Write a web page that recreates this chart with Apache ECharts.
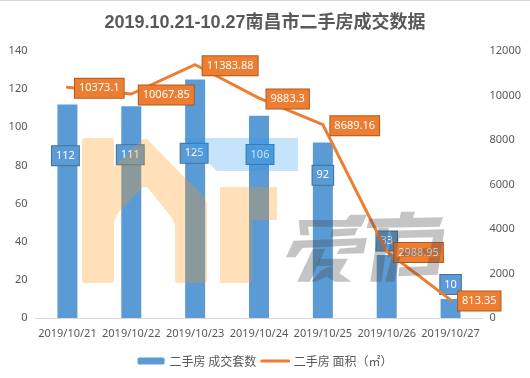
<!DOCTYPE html>
<html>
<head>
<meta charset="utf-8">
<style>
  html, body { margin: 0; padding: 0; background: #fff; }
  #chart { width: 530px; height: 378px; }
</style>
<script src="https://cdn.jsdelivr.net/npm/echarts@6/dist/echarts.min.js"></script>
</head>
<body>
<div id="chart"></div>
<script>
const categories = ['2019/10/21', '2019/10/22', '2019/10/23', '2019/10/24', '2019/10/25', '2019/10/26', '2019/10/27'];
const dealCounts = [112, 111, 125, 106, 92, 33, 10];
const dealAreas = [10373.1, 10067.85, 11383.88, 9883.3, 8689.16, 2988.95, 813.35];
const barName = '二手房 成交套数';
const lineName = '二手房 面积（㎡）';

// where the bar labels sit relative to the middle of their bar
const barLabelOffsets = [[-2, -55.5], [-1, -57.5], [-1, -45.5], [1, -62.5], [0, -55], [0, -45.5], [0, -24]];

const font = '"Noto Sans", "Noto Sans CJK SC", sans-serif';
const textColor = '#595959';

// watermark, sits on top of the chart like the logo in the picture
const logoOrange = 'rgba(255,147,15,0.29)';
const logoBlue = 'rgba(30,150,245,0.26)';
const logoGray = 'rgba(70,70,70,0.32)';
const leftGlyph = [
  [[50,30],[192,30],[205,14],[255,14],[238,50],[78,50],[82,76],[55,76]],
  [[150,58],[228,54],[218,76],[145,80]],
  [[35,92],[255,84],[245,130],[165,132],[172,116],[222,112],[224,106],[62,114],[40,142],[12,142]],
  [[92,118],[130,116],[84,215],[46,215]],
  [[112,146],[198,146],[172,190],[208,215],[158,215],[135,200],[100,215],[88,215],[118,180],[140,172],[155,168],[104,168]]
];
const rightGlyph = [
  [[108,5],[150,5],[144,24],[104,24]],
  [[12,26],[234,22],[224,50],[5,54]],
  [[40,54],[72,54],[50,215],[16,215]],
  [[80,140],[106,140],[88,215],[60,215]],
  [[78,62],[238,58],[228,136],[108,140],[112,116],[198,113],[204,82],[102,84],[94,140],[68,140]],
  [[192,140],[226,138],[218,194],[100,199],[103,172],[186,169]]
];
const scaleGlyph = (shapes, x0, y0) => shapes.map(s => s.map(p => [x0 + p[0] / 3, y0 + p[1] / 3]));
const grayShapes = scaleGlyph(leftGlyph, 282, 210).concat(scaleGlyph(rightGlyph, 365, 210));

const logo = [
  { type: 'polygon', z: 100, silent: true, style: { fill: logoOrange },
    shape: { points: [[84,138],[112,138],[114,140],[114,167],[143,139],[147,139],[205,198],[207,204],[207,281],[205,283],[177,283],[175,281],[175,226],[172,218],[147,187],[143,187],[118,213],[114,222],[114,281],[112,283],[84,283],[82,281],[82,140]] } },
  { type: 'polygon', z: 100, silent: true, style: { fill: logoOrange },
    shape: { points: [[220,187],[277,187],[277,220],[252,220],[252,283],[220,283]] } },
  { type: 'polygon', z: 100, silent: true, style: { fill: logoBlue },
    shape: { points: [[183,138],[298,138],[298,171],[217,171]] } }
].concat(grayShapes.map(points => ({
  type: 'polygon', z: 100, silent: true,
  style: { fill: logoGray },
  shape: { points }
})));

const chart = echarts.init(document.getElementById('chart'));
chart.setOption({
  animation: false,
  textStyle: { fontFamily: font },
  title: {
    text: '2019.10.21-10.27南昌市二手房成交数据',
    left: 'center',
    top: 9,
    textStyle: { fontFamily: '"Liberation Sans", "Noto Sans CJK SC", sans-serif', fontSize: 18, fontWeight: 'bold', color: textColor }
  },
  legend: {
    bottom: 6,
    left: 'center',
    itemWidth: 27,
    itemHeight: 7,
    itemGap: 4,
    textStyle: { fontFamily: '"Noto Sans CJK SC", sans-serif', fontSize: 12, color: textColor },
    data: [barName, { name: lineName, itemStyle: { opacity: 0 }, lineStyle: { width: 3 } }]
  },
  grid: { left: 35.5, right: 47.5, top: 51, bottom: 60 },
  xAxis: {
    type: 'category',
    data: categories,
    axisLine: { lineStyle: { color: '#D9D9D9' } },
    axisTick: { length: 5, lineStyle: { color: '#D9D9D9' } },
    axisLabel: { fontSize: 11, color: textColor, margin: 10, interval: 0 }
  },
  yAxis: [
    {
      type: 'value', min: 0, max: 140, interval: 20,
      axisLine: { show: false }, axisTick: { show: false }, splitLine: { show: false },
      axisLabel: { fontSize: 11, color: textColor, margin: 8 }
    },
    {
      type: 'value', min: 0, max: 12000, interval: 2000,
      axisLine: { show: false }, axisTick: { show: false }, splitLine: { show: false },
      axisLabel: { fontSize: 11, color: textColor, margin: 7, formatter: v => String(v) }
    }
  ],
  series: [
    {
      name: barName,
      type: 'bar',
      barWidth: 20,
      itemStyle: { color: '#5B9BD5' },
      data: dealCounts.map((v, i) => ({
        value: v,
        label: { offset: barLabelOffsets[i] }
      })),
      label: {
        show: true,
        position: 'inside',
        color: '#fff',
        fontSize: 11,
        backgroundColor: '#5B9BD5',
        borderColor: '#41719C',
        borderWidth: 1,
        padding: [4, 4]
      }
    },
    {
      name: lineName,
      type: 'line',
      yAxisIndex: 1,
      symbol: 'circle',
      symbolSize: 1,
      lineStyle: { color: '#ED7D31', width: 3, cap: 'round', join: 'round' },
      itemStyle: { color: '#ED7D31' },
      data: dealAreas,
      label: {
        show: true,
        position: 'right',
        distance: 7,
        offset: [0, 1],
        color: '#fff',
        fontSize: 11,
        backgroundColor: '#ED7D31',
        borderColor: '#AE5A21',
        borderWidth: 1,
        padding: [4, 4]
      }
    }
  ],
  graphic: [
    { type: 'rect', z: 100, silent: true, shape: { x: 0, y: 0, width: 530, height: 1 }, style: { fill: '#D9D9D9' } }
  ].concat(logo)
});
</script>
</body>
</html>
